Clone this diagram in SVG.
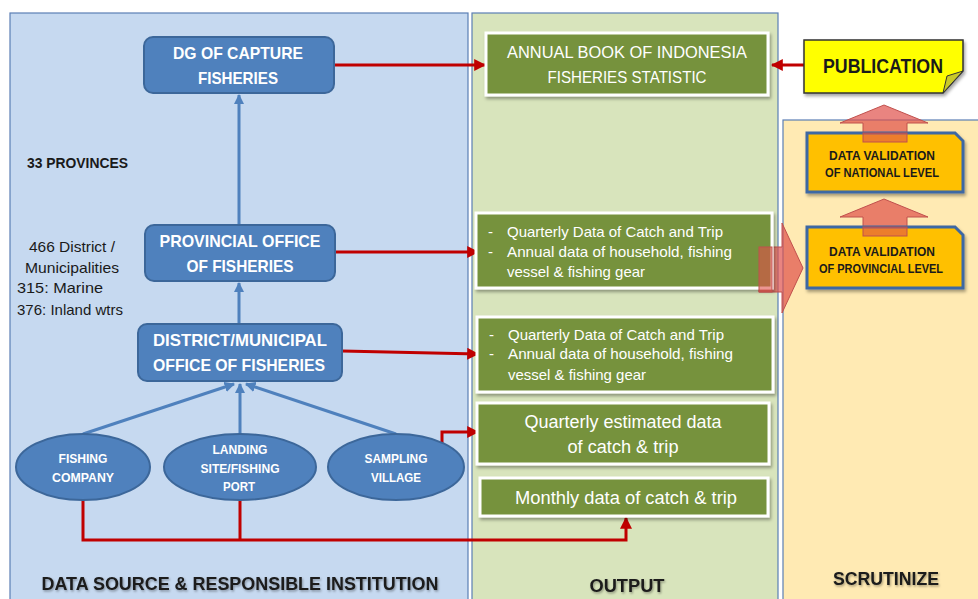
<svg xmlns="http://www.w3.org/2000/svg" width="978" height="599" viewBox="0 0 978 599">
  <defs>
    <style>
      .panel { stroke: #5b7fb5; stroke-width: 1.2; }
      .bnode { fill: #4f81bd; stroke: #3c679a; stroke-width: 2; }
      .gbox { fill: #76923c; stroke: #ffffff; stroke-width: 3; filter: url(#shadow); }
      .btxt { font-family: "Liberation Sans", Arial, sans-serif; font-weight: bold; fill: #ffffff; text-anchor: middle; }
      .gtxt { font-family: "Liberation Sans", Arial, sans-serif; fill: #ffffff; }
      .ktxt { font-family: "Liberation Sans", Arial, sans-serif; fill: #1a1a1a; }
      .red { stroke: #c00000; stroke-width: 3; fill: none; }
      .blue { stroke: #4f81bd; stroke-width: 3; fill: none; }
      .val { fill: #ffc000; stroke: #3d67a3; stroke-width: 3; filter: url(#shadow); }
      .blk { fill: #e0504a; fill-opacity: 0.7; stroke: #c0504d; stroke-width: 1; }
    </style>
    <filter id="shadow" x="-10%" y="-10%" width="125%" height="140%">
      <feDropShadow dx="1.5" dy="2.5" stdDeviation="1.8" flood-color="#000000" flood-opacity="0.35"/>
    </filter>
    <filter id="tshadow" x="-5%" y="-20%" width="110%" height="150%">
      <feDropShadow dx="1" dy="1.5" stdDeviation="1" flood-color="#000000" flood-opacity="0.35"/>
    </filter>
    <marker id="redHead" viewBox="0 0 10 10" refX="9" refY="5" markerWidth="4" markerHeight="4" orient="auto">
      <path d="M0,0 L10,5 L0,10 Z" fill="#c00000"/>
    </marker>
    <marker id="blueHead" viewBox="0 0 10 10" refX="9" refY="5" markerWidth="3.5" markerHeight="3.5" orient="auto">
      <path d="M0,0 L10,5 L0,10 Z" fill="#4f81bd"/>
    </marker>
  </defs>

  <rect width="978" height="599" fill="#ffffff"/>

  <!-- column panels -->
  <g id="panels">
    <rect class="panel" x="10" y="13" width="458" height="600" fill="#c6d9f0"/>
    <rect class="panel" x="472" y="13" width="306" height="600" fill="#d8e4bc"/>
    <rect class="panel" x="783" y="120" width="200" height="500" fill="#ffeab3"/>
  </g>

  <!-- block arrows in the scrutinize column -->
  <g id="block-arrows">
    <path class="blk" d="M759,247 H782 V223 L803,268 L782,313 V292 H759 Z"/>
    <path class="blk" d="M863,142 V123 H840 L884,105 L928,123 H907 V142 Z"/>
    <path class="blk" d="M863,236 V217 H840 L884,199 L928,217 H907 V236 Z"/>
  </g>

  <!-- connectors -->
  <g id="connectors">
    <line class="blue" x1="239" y1="225" x2="239" y2="95" marker-end="url(#blueHead)"/>
    <line class="blue" x1="239" y1="324" x2="239" y2="283" marker-end="url(#blueHead)"/>
    <line class="blue" x1="83" y1="434" x2="234" y2="384" marker-end="url(#blueHead)"/>
    <line class="blue" x1="240" y1="434" x2="240" y2="384" marker-end="url(#blueHead)"/>
    <line class="blue" x1="396" y1="434" x2="246" y2="384" marker-end="url(#blueHead)"/>

    <line class="red" x1="334" y1="65" x2="485" y2="65" marker-end="url(#redHead)"/>
    <line class="red" x1="335" y1="252" x2="478" y2="252" marker-end="url(#redHead)"/>
    <line class="red" x1="342" y1="351" x2="478" y2="354" marker-end="url(#redHead)"/>
    <polyline class="red" points="442,443 442,432 478,432" marker-end="url(#redHead)"/>
    <polyline class="red" points="83,500 83,540 626,540 626,518" marker-end="url(#redHead)"/>
    <line class="red" x1="240" y1="500" x2="240" y2="540"/>
    <line class="red" x1="804" y1="65" x2="772" y2="65" marker-end="url(#redHead)"/>
  </g>

  <!-- data source nodes -->
  <g id="dg-capture">
    <rect class="bnode" x="144" y="37" width="190" height="56" rx="9"/>
    <text class="btxt" x="238" y="59" font-size="17" textLength="130" lengthAdjust="spacingAndGlyphs">DG OF CAPTURE</text>
    <text class="btxt" x="238" y="84" font-size="17" textLength="80" lengthAdjust="spacingAndGlyphs">FISHERIES</text>
  </g>
  <g id="provincial-office">
    <rect class="bnode" x="145" y="225" width="190" height="56" rx="9"/>
    <text class="btxt" x="240" y="247" font-size="17" textLength="161" lengthAdjust="spacingAndGlyphs">PROVINCIAL OFFICE</text>
    <text class="btxt" x="240" y="272" font-size="17" textLength="107" lengthAdjust="spacingAndGlyphs">OF FISHERIES</text>
  </g>
  <g id="district-office">
    <rect class="bnode" x="138" y="324" width="204" height="57" rx="9"/>
    <text class="btxt" x="240" y="346" font-size="17" textLength="174" lengthAdjust="spacingAndGlyphs">DISTRICT/MUNICIPAL</text>
    <text class="btxt" x="239" y="371" font-size="17" textLength="172" lengthAdjust="spacingAndGlyphs">OFFICE  OF FISHERIES</text>
  </g>
  <g id="fishing-company">
    <ellipse class="bnode" cx="83" cy="467" rx="67" ry="33"/>
    <text class="btxt" x="83" y="463" font-size="12.5" textLength="49" lengthAdjust="spacingAndGlyphs">FISHING</text>
    <text class="btxt" x="83" y="482" font-size="12.5" textLength="62" lengthAdjust="spacingAndGlyphs">COMPANY</text>
  </g>
  <g id="landing-site">
    <ellipse class="bnode" cx="240" cy="467" rx="76" ry="33"/>
    <text class="btxt" x="240" y="454" font-size="12.5" textLength="55" lengthAdjust="spacingAndGlyphs">LANDING</text>
    <text class="btxt" x="240" y="473" font-size="12.5" textLength="79" lengthAdjust="spacingAndGlyphs">SITE/FISHING</text>
    <text class="btxt" x="239" y="491" font-size="12.5" textLength="32" lengthAdjust="spacingAndGlyphs">PORT</text>
  </g>
  <g id="sampling-village">
    <ellipse class="bnode" cx="396" cy="467" rx="68" ry="33"/>
    <text class="btxt" x="396" y="463" font-size="12.5" textLength="63" lengthAdjust="spacingAndGlyphs">SAMPLING</text>
    <text class="btxt" x="396" y="482" font-size="12.5" textLength="50" lengthAdjust="spacingAndGlyphs">VILLAGE</text>
  </g>

  <!-- side notes -->
  <g id="notes">
    <text class="ktxt" x="27" y="168" font-size="14" font-weight="bold" textLength="101" lengthAdjust="spacingAndGlyphs">33 PROVINCES</text>
    <text class="ktxt" x="29" y="252" font-size="14.5" textLength="86" lengthAdjust="spacingAndGlyphs">466 District /</text>
    <text class="ktxt" x="25" y="273" font-size="14.5" textLength="94" lengthAdjust="spacingAndGlyphs">Municipalities</text>
    <text class="ktxt" x="17" y="293" font-size="14.5" textLength="86" lengthAdjust="spacingAndGlyphs">315:  Marine</text>
    <text class="ktxt" x="17" y="315" font-size="14.5" textLength="106" lengthAdjust="spacingAndGlyphs">376: Inland wtrs</text>
  </g>

  <!-- output nodes -->
  <g id="annual-book">
    <rect class="gbox" x="486" y="33" width="282" height="62"/>
    <text class="gtxt" x="627" y="58" font-size="17" text-anchor="middle" textLength="240" lengthAdjust="spacingAndGlyphs">ANNUAL BOOK OF INDONESIA</text>
    <text class="gtxt" x="627" y="83" font-size="17" text-anchor="middle" textLength="159" lengthAdjust="spacingAndGlyphs">FISHERIES STATISTIC</text>
  </g>
  <g id="provincial-data">
    <rect class="gbox" x="476" y="213" width="296" height="75"/>
    <text class="gtxt" x="488" y="237" font-size="15">-</text>
    <text class="gtxt" x="488" y="257" font-size="15">-</text>
    <text class="gtxt" x="507" y="237" font-size="15" textLength="216" lengthAdjust="spacingAndGlyphs">Quarterly Data of Catch and Trip</text>
    <text class="gtxt" x="507" y="257" font-size="15" textLength="225" lengthAdjust="spacingAndGlyphs">Annual data of household,  fishing</text>
    <text class="gtxt" x="507" y="277" font-size="15" textLength="138" lengthAdjust="spacingAndGlyphs">vessel &amp; fishing gear</text>
  </g>
  <g id="district-data">
    <rect class="gbox" x="477" y="317" width="296" height="75"/>
    <text class="gtxt" x="489" y="340" font-size="15">-</text>
    <text class="gtxt" x="489" y="359" font-size="15">-</text>
    <text class="gtxt" x="508" y="340" font-size="15" textLength="216" lengthAdjust="spacingAndGlyphs">Quarterly Data of Catch and Trip</text>
    <text class="gtxt" x="508" y="359" font-size="15" textLength="225" lengthAdjust="spacingAndGlyphs">Annual data of household,  fishing</text>
    <text class="gtxt" x="508" y="380" font-size="15" textLength="138" lengthAdjust="spacingAndGlyphs">vessel &amp; fishing gear</text>
  </g>
  <g id="quarterly-estimated">
    <rect class="gbox" x="477" y="403" width="292" height="61"/>
    <text class="gtxt" x="623" y="428" font-size="17.5" text-anchor="middle" textLength="197" lengthAdjust="spacingAndGlyphs">Quarterly estimated data</text>
    <text class="gtxt" x="623" y="453" font-size="17.5" text-anchor="middle" textLength="111" lengthAdjust="spacingAndGlyphs">of catch &amp; trip</text>
  </g>
  <g id="monthly-data">
    <rect class="gbox" x="480" y="478" width="288" height="38"/>
    <text class="gtxt" x="626" y="504" font-size="17.5" text-anchor="middle" textLength="222" lengthAdjust="spacingAndGlyphs">Monthly data of catch &amp; trip</text>
  </g>

  <!-- publication and scrutiny nodes -->
  <g id="publication">
    <path d="M804,40 H963 V71 L943,93 H804 Z" fill="#ffff00" stroke="#333333" stroke-width="1.5" filter="url(#shadow)"/>
    <path d="M963,71 L943,93 L947,76 Z" fill="#c9c92a" stroke="#333333" stroke-width="1"/>
    <text class="ktxt" x="883" y="73" font-size="19.5" font-weight="bold" text-anchor="middle" textLength="120" lengthAdjust="spacingAndGlyphs" fill="#000000">PUBLICATION</text>
  </g>
  <g id="validation-national">
    <path class="val" d="M807,133 H955 L963,141 V192 H807 Z"/>
    <text class="ktxt" x="882" y="160" font-size="12" font-weight="bold" text-anchor="middle" textLength="106" lengthAdjust="spacingAndGlyphs">DATA VALIDATION</text>
    <text class="ktxt" x="882" y="177" font-size="12" font-weight="bold" text-anchor="middle" textLength="114" lengthAdjust="spacingAndGlyphs">OF NATIONAL LEVEL</text>
  </g>
  <g id="validation-provincial">
    <path class="val" d="M807,227 H955 L963,235 V288 H807 Z"/>
    <text class="ktxt" x="882" y="256" font-size="12" font-weight="bold" text-anchor="middle" textLength="106" lengthAdjust="spacingAndGlyphs">DATA VALIDATION</text>
    <text class="ktxt" x="881" y="273" font-size="12" font-weight="bold" text-anchor="middle" textLength="124" lengthAdjust="spacingAndGlyphs">OF PROVINCIAL LEVEL</text>
  </g>
  <!-- block-arrow shafts drawn over the boxes they point into -->
  <g id="block-arrow-overlap">
    <rect x="863" y="133" width="44" height="9" fill="#e0504a" fill-opacity="0.6" stroke="#c0504d" stroke-width="1"/>
    <rect x="863" y="227" width="44" height="9" fill="#e0504a" fill-opacity="0.6" stroke="#c0504d" stroke-width="1"/>
    <rect x="759" y="247" width="13" height="45" fill="#e0504a" fill-opacity="0.6" stroke="#c0504d" stroke-width="1"/>
  </g>

  <!-- column titles -->
  <g id="titles" filter="url(#tshadow)">
    <text class="ktxt" x="240" y="590" font-size="19" font-weight="bold" text-anchor="middle" textLength="397" lengthAdjust="spacingAndGlyphs">DATA SOURCE &amp; RESPONSIBLE INSTITUTION</text>
    <text class="ktxt" x="627" y="592" font-size="19" font-weight="bold" text-anchor="middle" textLength="75" lengthAdjust="spacingAndGlyphs">OUTPUT</text>
    <text class="ktxt" x="886" y="585" font-size="19" font-weight="bold" text-anchor="middle" textLength="106" lengthAdjust="spacingAndGlyphs">SCRUTINIZE</text>
  </g>
</svg>
